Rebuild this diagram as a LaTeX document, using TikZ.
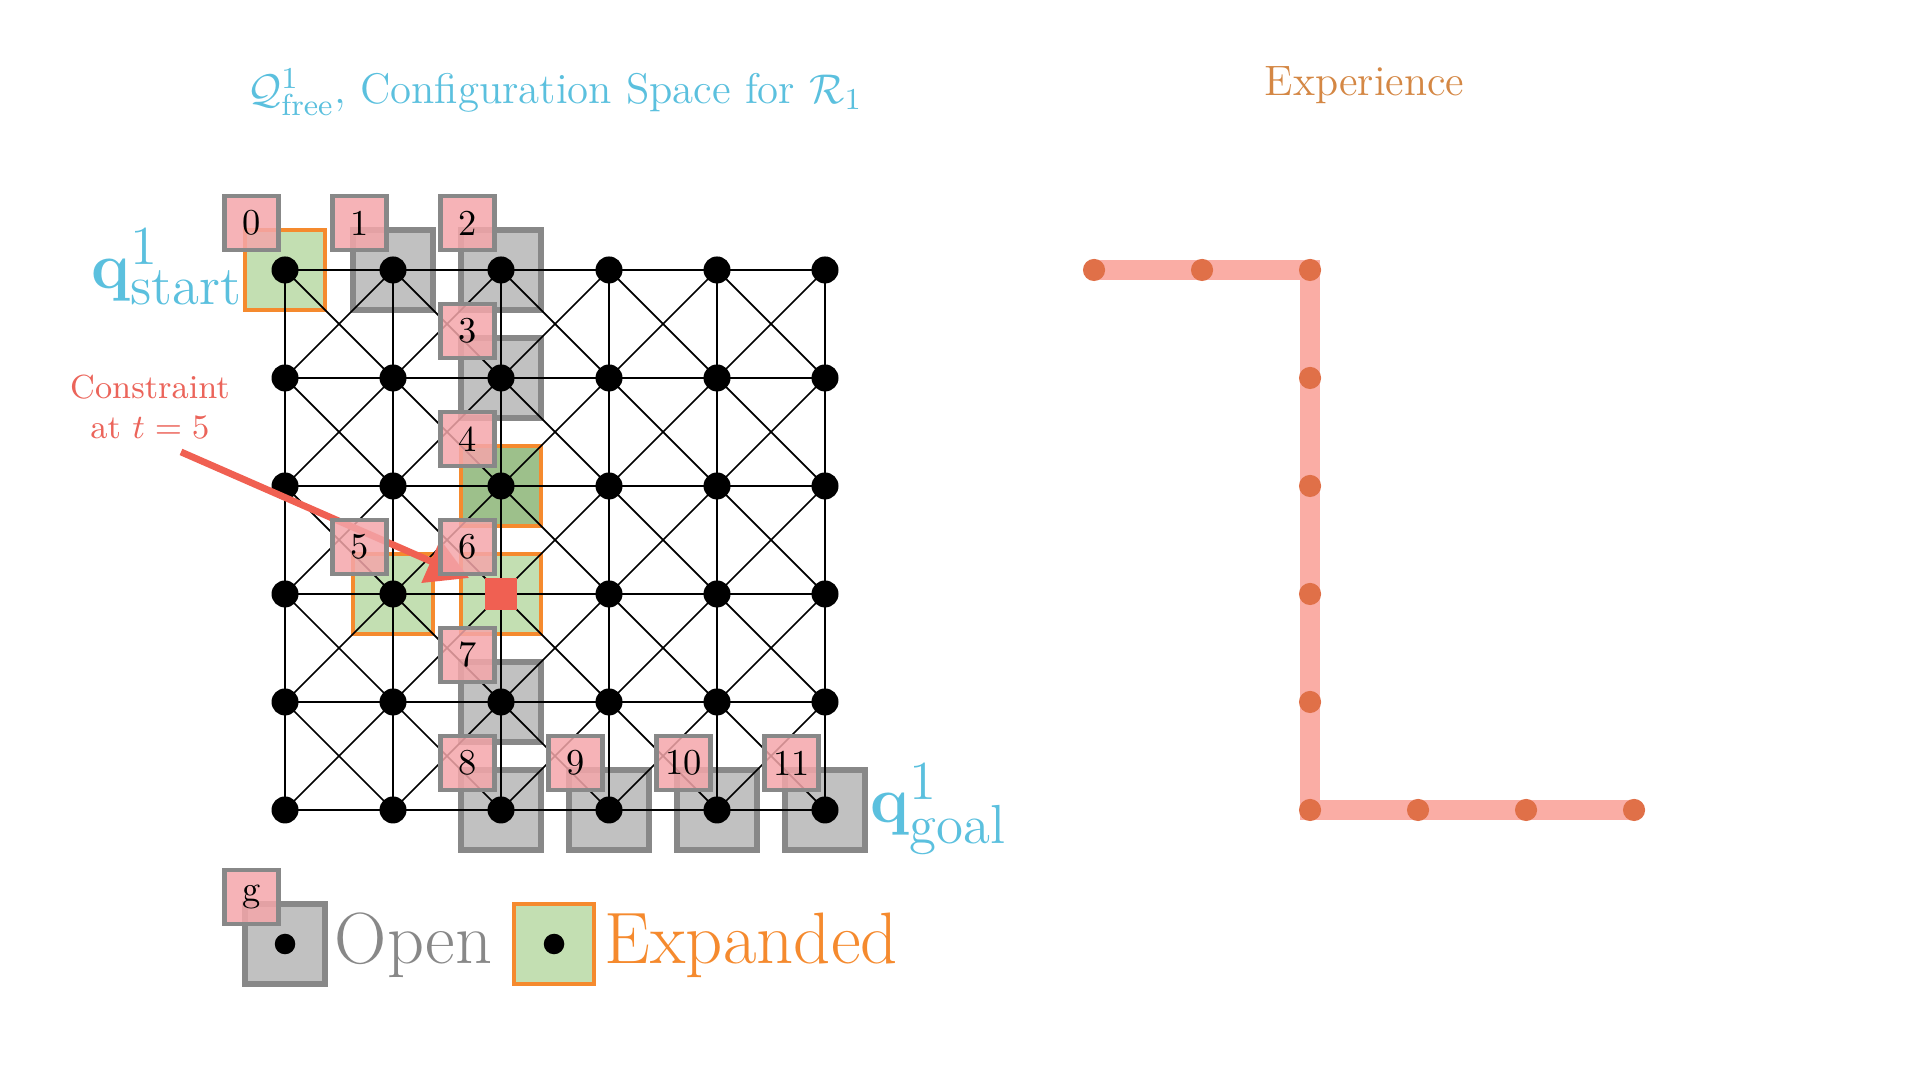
\documentclass[tikz,border=0pt]{standalone}
\usetikzlibrary{arrows.meta}
\definecolor{tblue}{RGB}{91,192,222}
\definecolor{expcol}{RGB}{212,135,68}
\definecolor{grayline}{RGB}{136,136,136}
\definecolor{grayfill}{RGB}{193,193,193}
\definecolor{orangeline}{RGB}{245,138,46}
\definecolor{lgreen}{RGB}{195,223,178}
\definecolor{dgreen}{RGB}{157,192,139}
\definecolor{pinkfill}{RGB}{244,166,170}
\definecolor{cred}{RGB}{240,96,82}
\definecolor{ctext}{RGB}{235,100,90}
\definecolor{pathline}{RGB}{250,173,165}
\definecolor{pathdot}{RGB}{224,112,72}
\newcommand{\qsub}[1]{\hbox{\fontsize{14.5}{16}\selectfont #1}}
\begin{document}
\begin{tikzpicture}[x=1cm,y=1cm,
  openbox/.style={rectangle,draw=grayline,fill=grayfill,line width=1.4pt,minimum size=0.74cm,inner sep=0pt},
  expbox/.style={rectangle,draw=orangeline,fill=lgreen,line width=1.2pt,minimum size=0.74cm,inner sep=0pt},
  lbl/.style={rectangle,draw=grayline,fill=pinkfill,fill opacity=0.85,text opacity=1,line width=1.3pt,minimum size=0.5cm,inner sep=0pt,font=\fontsize{9.6}{11}\selectfont},
  gdot/.style={circle,fill=black,minimum size=0.25cm,inner sep=0pt},
  ldot/.style={circle,fill=black,minimum size=0.19cm,inner sep=0pt},
  edge/.style={black,line width=0.45pt},
  expline/.style={pathline,line width=5.5pt,line join=miter},
  expdot/.style={circle,fill=pathdot,minimum size=0.205cm,inner sep=0pt},
  carrow/.style={cred,line width=1.8pt,-{Triangle[length=11pt,width=12pt]}},
  qlab/.style={inner sep=0pt,text=tblue,font=\fontsize{18.5}{22}\selectfont}
]
\useasboundingbox (0,0) rectangle (17.7778,10);

% grid coordinates
\foreach \c in {0,...,5}{
  \foreach \r in {0,...,5}{
    \coordinate (g\c\r) at (2.639+\c,7.5-\r);
  }
}

% open and expanded squares
\foreach \c/\r in {1/0,2/0,2/1,2/4,2/5,3/5,4/5,5/5}{
  \node[openbox] (s\c\r) at (g\c\r) {};
}
\foreach \c/\r in {0/0,1/3,2/3}{
  \node[expbox] (s\c\r) at (g\c\r) {};
}
\node[expbox,fill=dgreen] (s22) at (g22) {};

% grid edges
\foreach \c/\cn in {0/1,1/2,2/3,3/4,4/5}{
  \foreach \r in {0,...,5}{
    \draw[edge] (g\c\r) -- (g\cn\r);
    \draw[edge] (g\r\c) -- (g\r\cn);
  }
  \foreach \r/\rn in {0/1,1/2,2/3,3/4,4/5}{
    \draw[edge] (g\c\r) -- (g\cn\rn);
    \draw[edge] (g\cn\r) -- (g\c\rn);
  }
}

% dots
\foreach \c in {0,...,5}{
  \foreach \r in {0,...,5}{
    \ifnum\c\r=23\relax\else
      \node[gdot] (d\c\r) at (g\c\r) {};
    \fi
  }
}
\node[rectangle,fill=cred,minimum size=0.29cm,inner sep=0pt] (cons) at (g23) {};

% constraint label and arrow
\node[anchor=north,align=center,text=ctext,inner sep=0pt,font=\fontsize{8.8}{10.5}\selectfont] (con) at (1.389,6.537) {Constraint\\at $t=5$};
\coordinate (cs) at (1.676,5.815);
\coordinate (ct) at (4.343,4.648);
\draw[carrow] (cs) -- (ct);

% order labels
\foreach \n/\c/\r in {0/0/0,1/1/0,2/2/0,3/2/1,4/2/2,5/1/3,6/2/3,7/2/4,8/2/5,9/3/5,10/4/5,11/5/5}{
  \node[lbl] (l\n) at ([shift={(-0.31,0.435)}]g\c\r) {\n};
}

% start / goal labels
\node[qlab,anchor=base east] (qs) at (2.26,7.333) {$\mathbf{q}^{\qsub{1}}_{\qsub{start}}$};
\node[qlab,anchor=base west] (qg) at (8.056,2.380) {$\mathbf{q}^{\qsub{1}}_{\qsub{goal}}$};

% title
\node[anchor=base,text=tblue,font=\fontsize{11.3}{13}\selectfont] (title) at (5.139,9.04) {$\mathcal{Q}^1_{\mathrm{free}}$, Configuration Space for $\mathcal{R}_1$};
\node[anchor=base,text=expcol,font=\fontsize{11.2}{13}\selectfont] (exptitle) at (12.634,9.12) {Experience};

% legend
\coordinate (lo) at (2.639,1.259);
\coordinate (le) at (5.130,1.259);
\node[openbox] (lgo) at (lo) {};
\node[ldot] (lgod) at (lo) {};
\node[lbl] (lgg) at ([shift={(-0.31,0.435)}]lo) {g};
\node[anchor=base west,inner sep=0pt,text=grayline,font=\fontsize{19.1}{22}\selectfont] (topen) at (3.093,1.074) {Open};
\node[expbox] (lge) at (le) {};
\node[ldot] (lged) at (le) {};
\node[anchor=base west,inner sep=0pt,text=orangeline,font=\fontsize{19.2}{22}\selectfont] (texp) at (5.593,1.074) {Expanded};

% experience path
\foreach \i/\x/\y in {1/10.13/7.5,2/11.13/7.5,3/12.13/7.5,4/12.13/6.5,5/12.13/5.5,6/12.13/4.5,7/12.13/3.5,8/12.13/2.5,9/13.13/2.5,10/14.13/2.5,11/15.13/2.5}{
  \coordinate (e\i) at (\x,\y);
}
\draw[expline] (e1) -- (e2) -- (e3) -- (e4) -- (e5) -- (e6) -- (e7) -- (e8) -- (e9) -- (e10) -- (e11);
\foreach \i in {1,...,11}{
  \node[expdot] (ed\i) at (e\i) {};
}
\end{tikzpicture}
\end{document}
